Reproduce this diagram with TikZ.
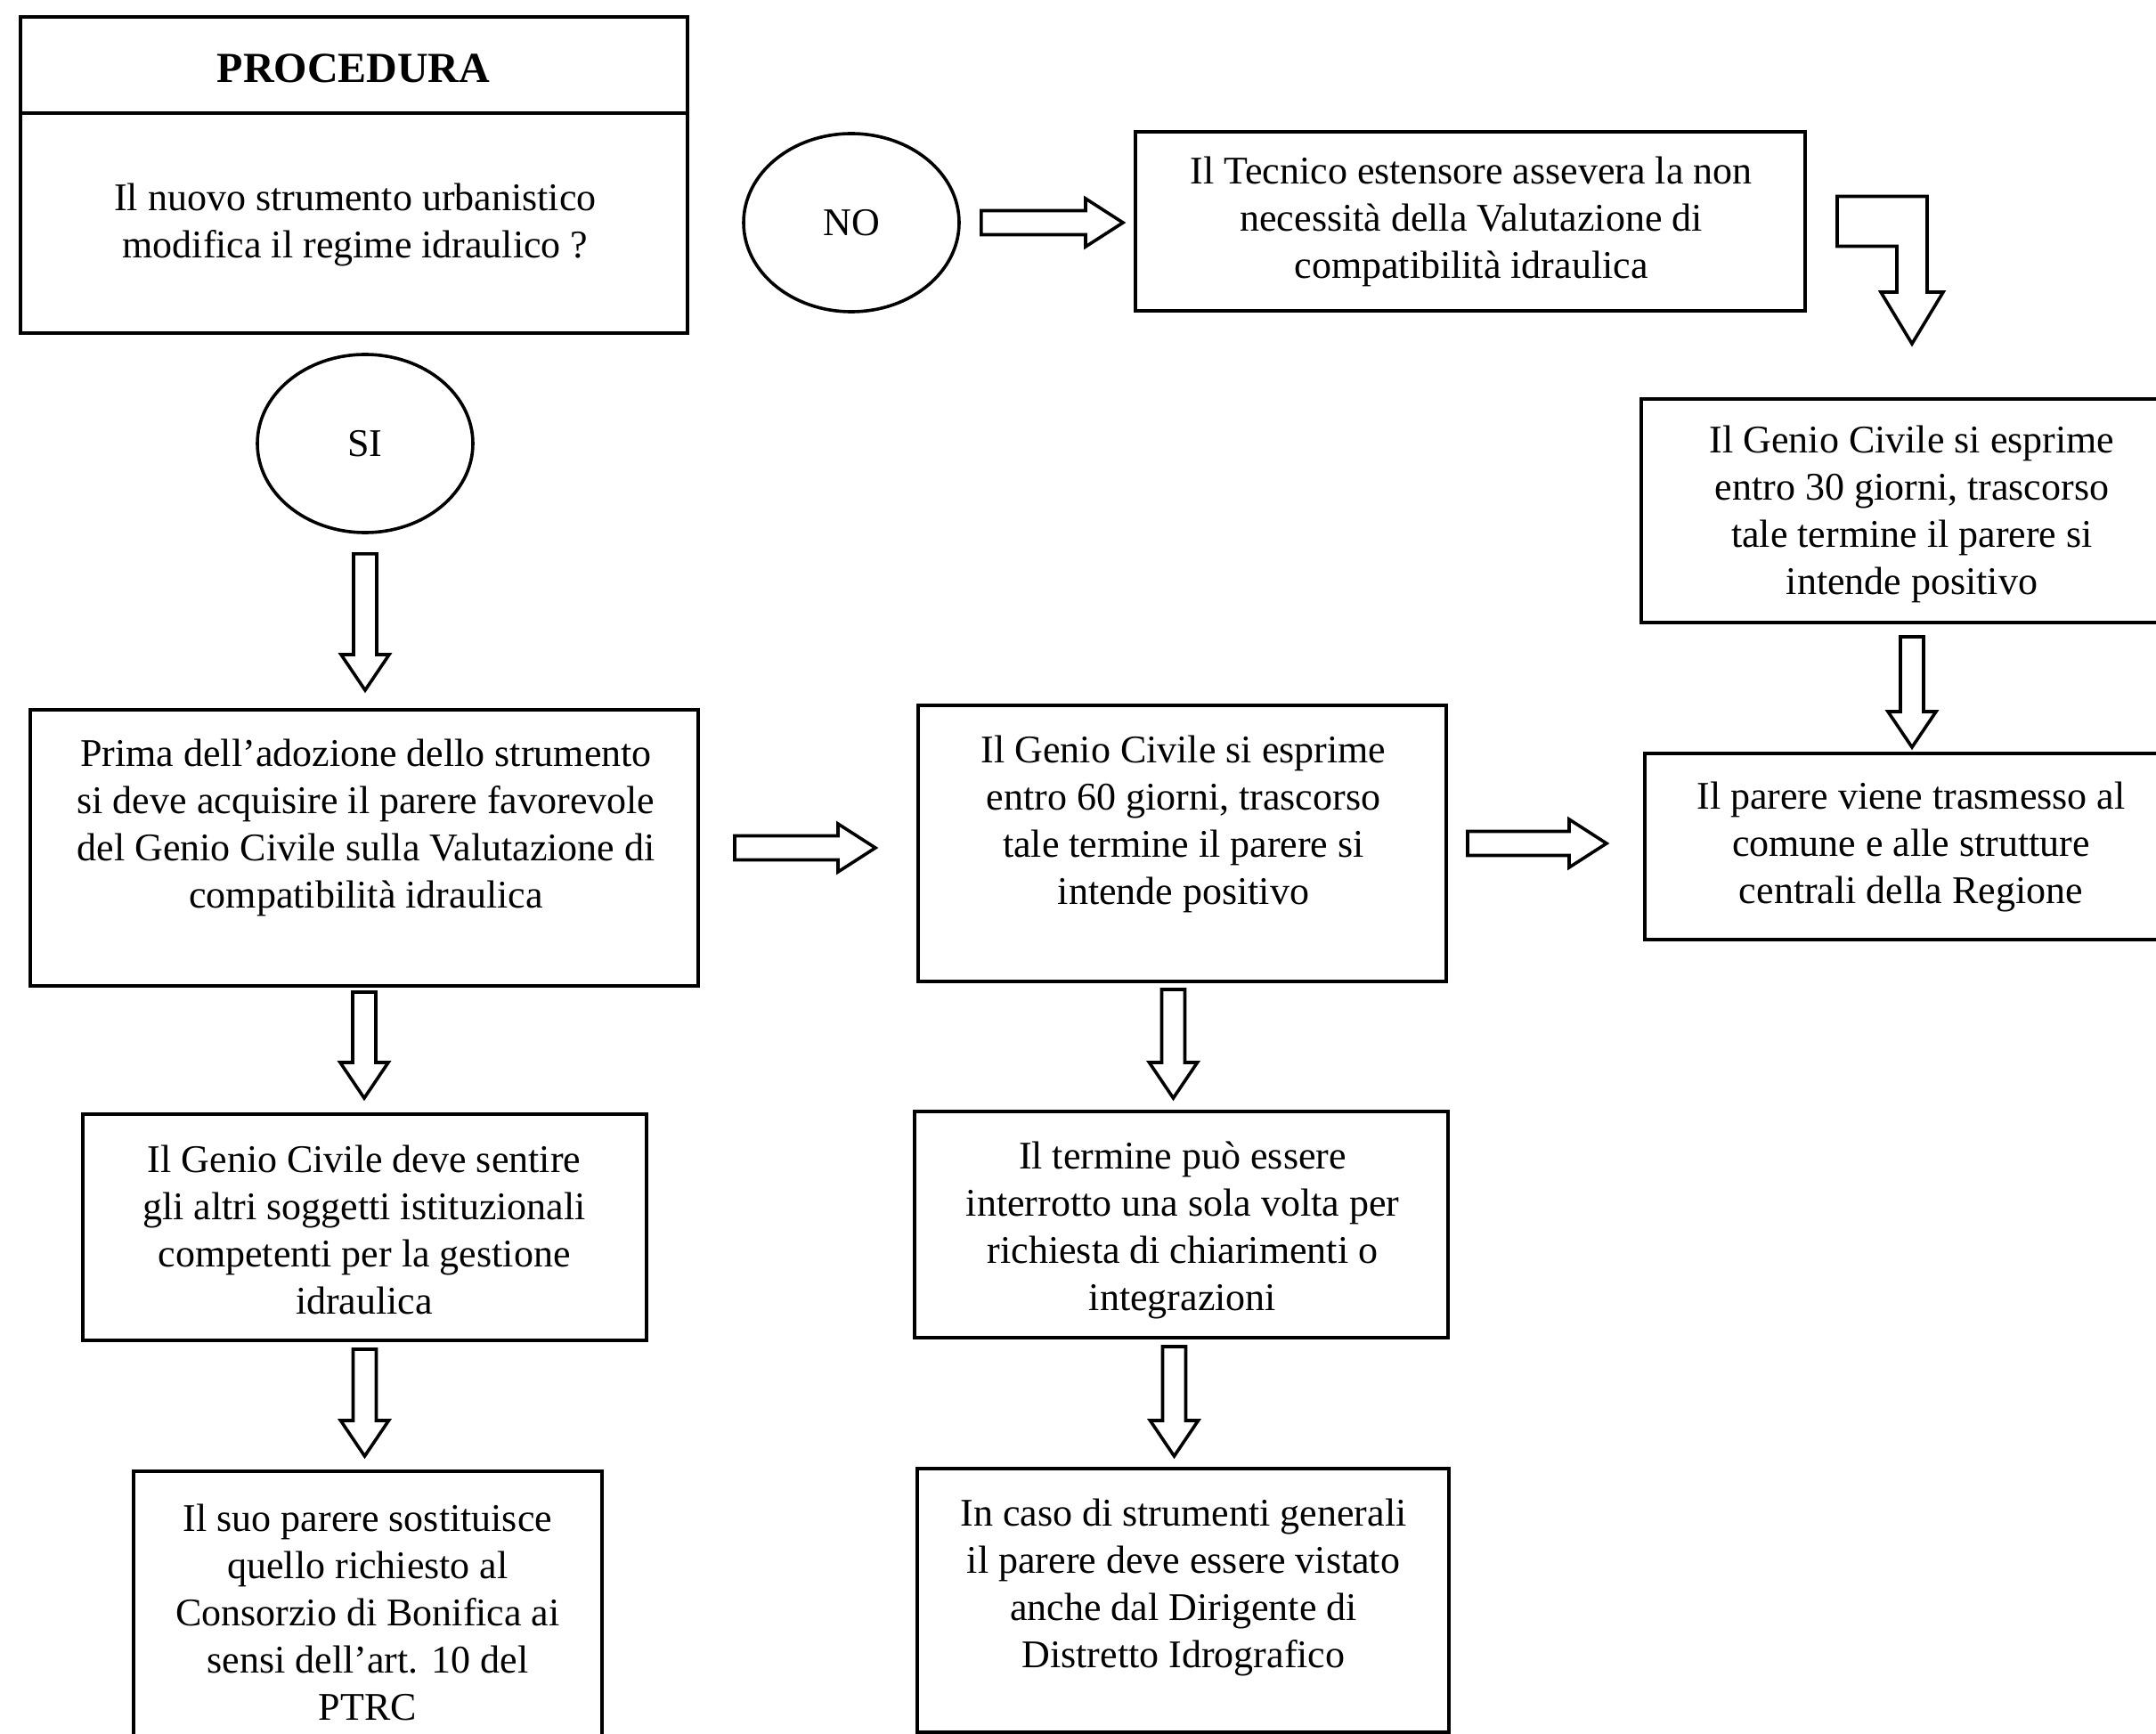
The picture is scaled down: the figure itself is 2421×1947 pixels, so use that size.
\documentclass[tikz,border=0pt]{standalone}
\usepackage{fontspec}
\setmainfont{Liberation Serif}
\usetikzlibrary{shapes.geometric,fit,calc}
\tikzset{
  boxline/.style={draw=black, line width=2pt},
  box/.style={boxline, rectangle, inner sep=0pt},
  oval/.style={draw=black, line width=1.8pt, ellipse, minimum width=121pt, minimum height=100pt, inner sep=0pt, font=\fontsize{22}{26.5}\selectfont},
  txt/.style={align=center, inner sep=0pt, font=\fontsize{22}{26.5}\selectfont},
  ttl/.style={align=center, inner sep=0pt, font=\fontsize{24}{28}\selectfont\bfseries},
  blockarrow/.style={draw=black, line width=1.8pt, fill=white, line join=miter},
}
% vertical hollow block arrow: start anchor, end anchor, gap at start, gap at tip
\newcommand\vArrow[4]{\draw[blockarrow] let \p1=(#1), \p2=(#2) in
  (\x1-6.5pt,\y1-#3) -- (\x1-6.5pt,\y2+#4+20pt) -- (\x1-13.5pt,\y2+#4+20pt) -- (\x1,\y2+#4)
  -- (\x1+13.5pt,\y2+#4+20pt) -- (\x1+6.5pt,\y2+#4+20pt) -- (\x1+6.5pt,\y1-#3) -- cycle;}
% horizontal hollow block arrow
\newcommand\hArrow[4]{\draw[blockarrow] let \p1=(#1), \p2=(#2) in
  (\x1+#3,\y1+6.75pt) -- (\x2-#4-21pt,\y1+6.75pt) -- (\x2-#4-21pt,\y1+13.5pt) -- (\x2-#4,\y1)
  -- (\x2-#4-21pt,\y1-13.5pt) -- (\x2-#4-21pt,\y1-6.75pt) -- (\x1+#3,\y1-6.75pt) -- cycle;}
\begin{document}
\begin{tikzpicture}[x=0.5pt,y=-0.5pt]
\path[use as bounding box, fill=white] (0,0) rectangle (2421,1947);
\clip (0,0) rectangle (2421,1947);

% boxes
\node[box, fit={(23,19) (772,374)}] (proc) {};
\coordinate (div) at (0,127);
\draw[boxline] (proc.west |- div) -- (proc.east |- div);
\node[ttl] (proct) at (397,77) {PROCEDURA};
\node[txt] (procq) at (399,252) {Il nuovo strumento urbanistico\\modifica il regime idraulico ?};

\node[oval] (no) at (956,250) {NO};
\node[oval] (si) at (410,498) {SI};

\node[box, fit={(1275,148) (2027,349)}] (tec) {};
\node[txt] (tect) at (1652,249) {Il Tecnico estensore assevera la non\\necessità della Valutazione di\\compatibilità idraulica};

\node[box, fit={(1843,448) (2450,699)}] (g30) {};
\node[txt] (g30t) at (2147,577) {Il Genio Civile si esprime\\entro 30 giorni, trascorso\\tale termine il parere si\\intende positivo};

\node[box, fit={(1847,846) (2450,1055)}] (par) {};
\node[txt] (part) at (2146,951) {Il parere viene trasmesso al\\comune e alle strutture\\centrali della Regione};

\node[box, fit={(34,797) (784,1107)}] (prima) {};
\node[txt] (primat) at (411,929) {Prima dell’adozione dello strumento\\si deve acquisire il parere favorevole\\del Genio Civile sulla Valutazione di\\compatibilità idraulica};

\node[box, fit={(1031,792) (1624,1102)}] (g60) {};
\node[txt] (g60t) at (1329,925) {Il Genio Civile si esprime\\entro 60 giorni, trascorso\\tale termine il parere si\\intende positivo};

\node[box, fit={(93,1251) (726,1505)}] (gdeve) {};
\node[txt] (gdevet) at (409,1381) {Il Genio Civile deve sentire\\gli altri soggetti istituzionali\\competenti per la gestione\\idraulica};

\node[box, fit={(1027,1248) (1626,1502)}] (term) {};
\node[txt] (termt) at (1328,1381) {Il termine può essere\\interrotto una sola volta per\\richiesta di chiarimenti o\\integrazioni};

\node[box, fit={(150,1652) (676,1970)}] (suo) {};
\node[txt] (suot) at (413,1810) {Il suo parere sostituisce\\quello richiesto al\\Consorzio di Bonifica ai\\sensi dell’art. 10 del\\PTRC};

\node[box, fit={(1030,1649) (1627,1945)}] (caso) {};
\node[txt] (casot) at (1329,1782) {In caso di strumenti generali\\il parere deve essere vistato\\anche dal Dirigente di\\Distretto Idrografico};

% horizontal arrows
\hArrow{no.east}{tec.west}{11.5pt}{6pt}
\hArrow{prima.east}{g60.west}{19.5pt}{23pt}
\hArrow{g60.east}{par.west}{11pt}{20.5pt}

% vertical arrows
\vArrow{si.south}{prima.north}{11pt}{10pt}
\vArrow{prima.south}{gdeve.north}{2.5pt}{8pt}
\vArrow{gdeve.south}{suo.north}{4pt}{7.5pt}
\vArrow{[xshift=-5pt]g60.south}{term.north}{3.5pt}{6.5pt}
\vArrow{[xshift=-4pt]term.south}{caso.north}{4pt}{6pt}
\vArrow{g30.south -| g30t}{par.north}{7pt}{2.5pt}

% bent arrow from tec to g30
\draw[blockarrow] let \p1=(tec.east), \p2=(g30.north -| g30t) in
  (\x1+17pt,\y1+14pt) -- (\x2+8.5pt,\y1+14pt) -- (\x2+8.5pt,\y2+59pt) -- (\x2+17.5pt,\y2+59pt)
  -- (\x2,\y2+30pt) -- (\x2-17.5pt,\y2+59pt) -- (\x2-8.5pt,\y2+59pt) -- (\x2-8.5pt,\y1-14pt)
  -- (\x1+17pt,\y1-14pt) -- cycle;
\end{tikzpicture}
\end{document}
